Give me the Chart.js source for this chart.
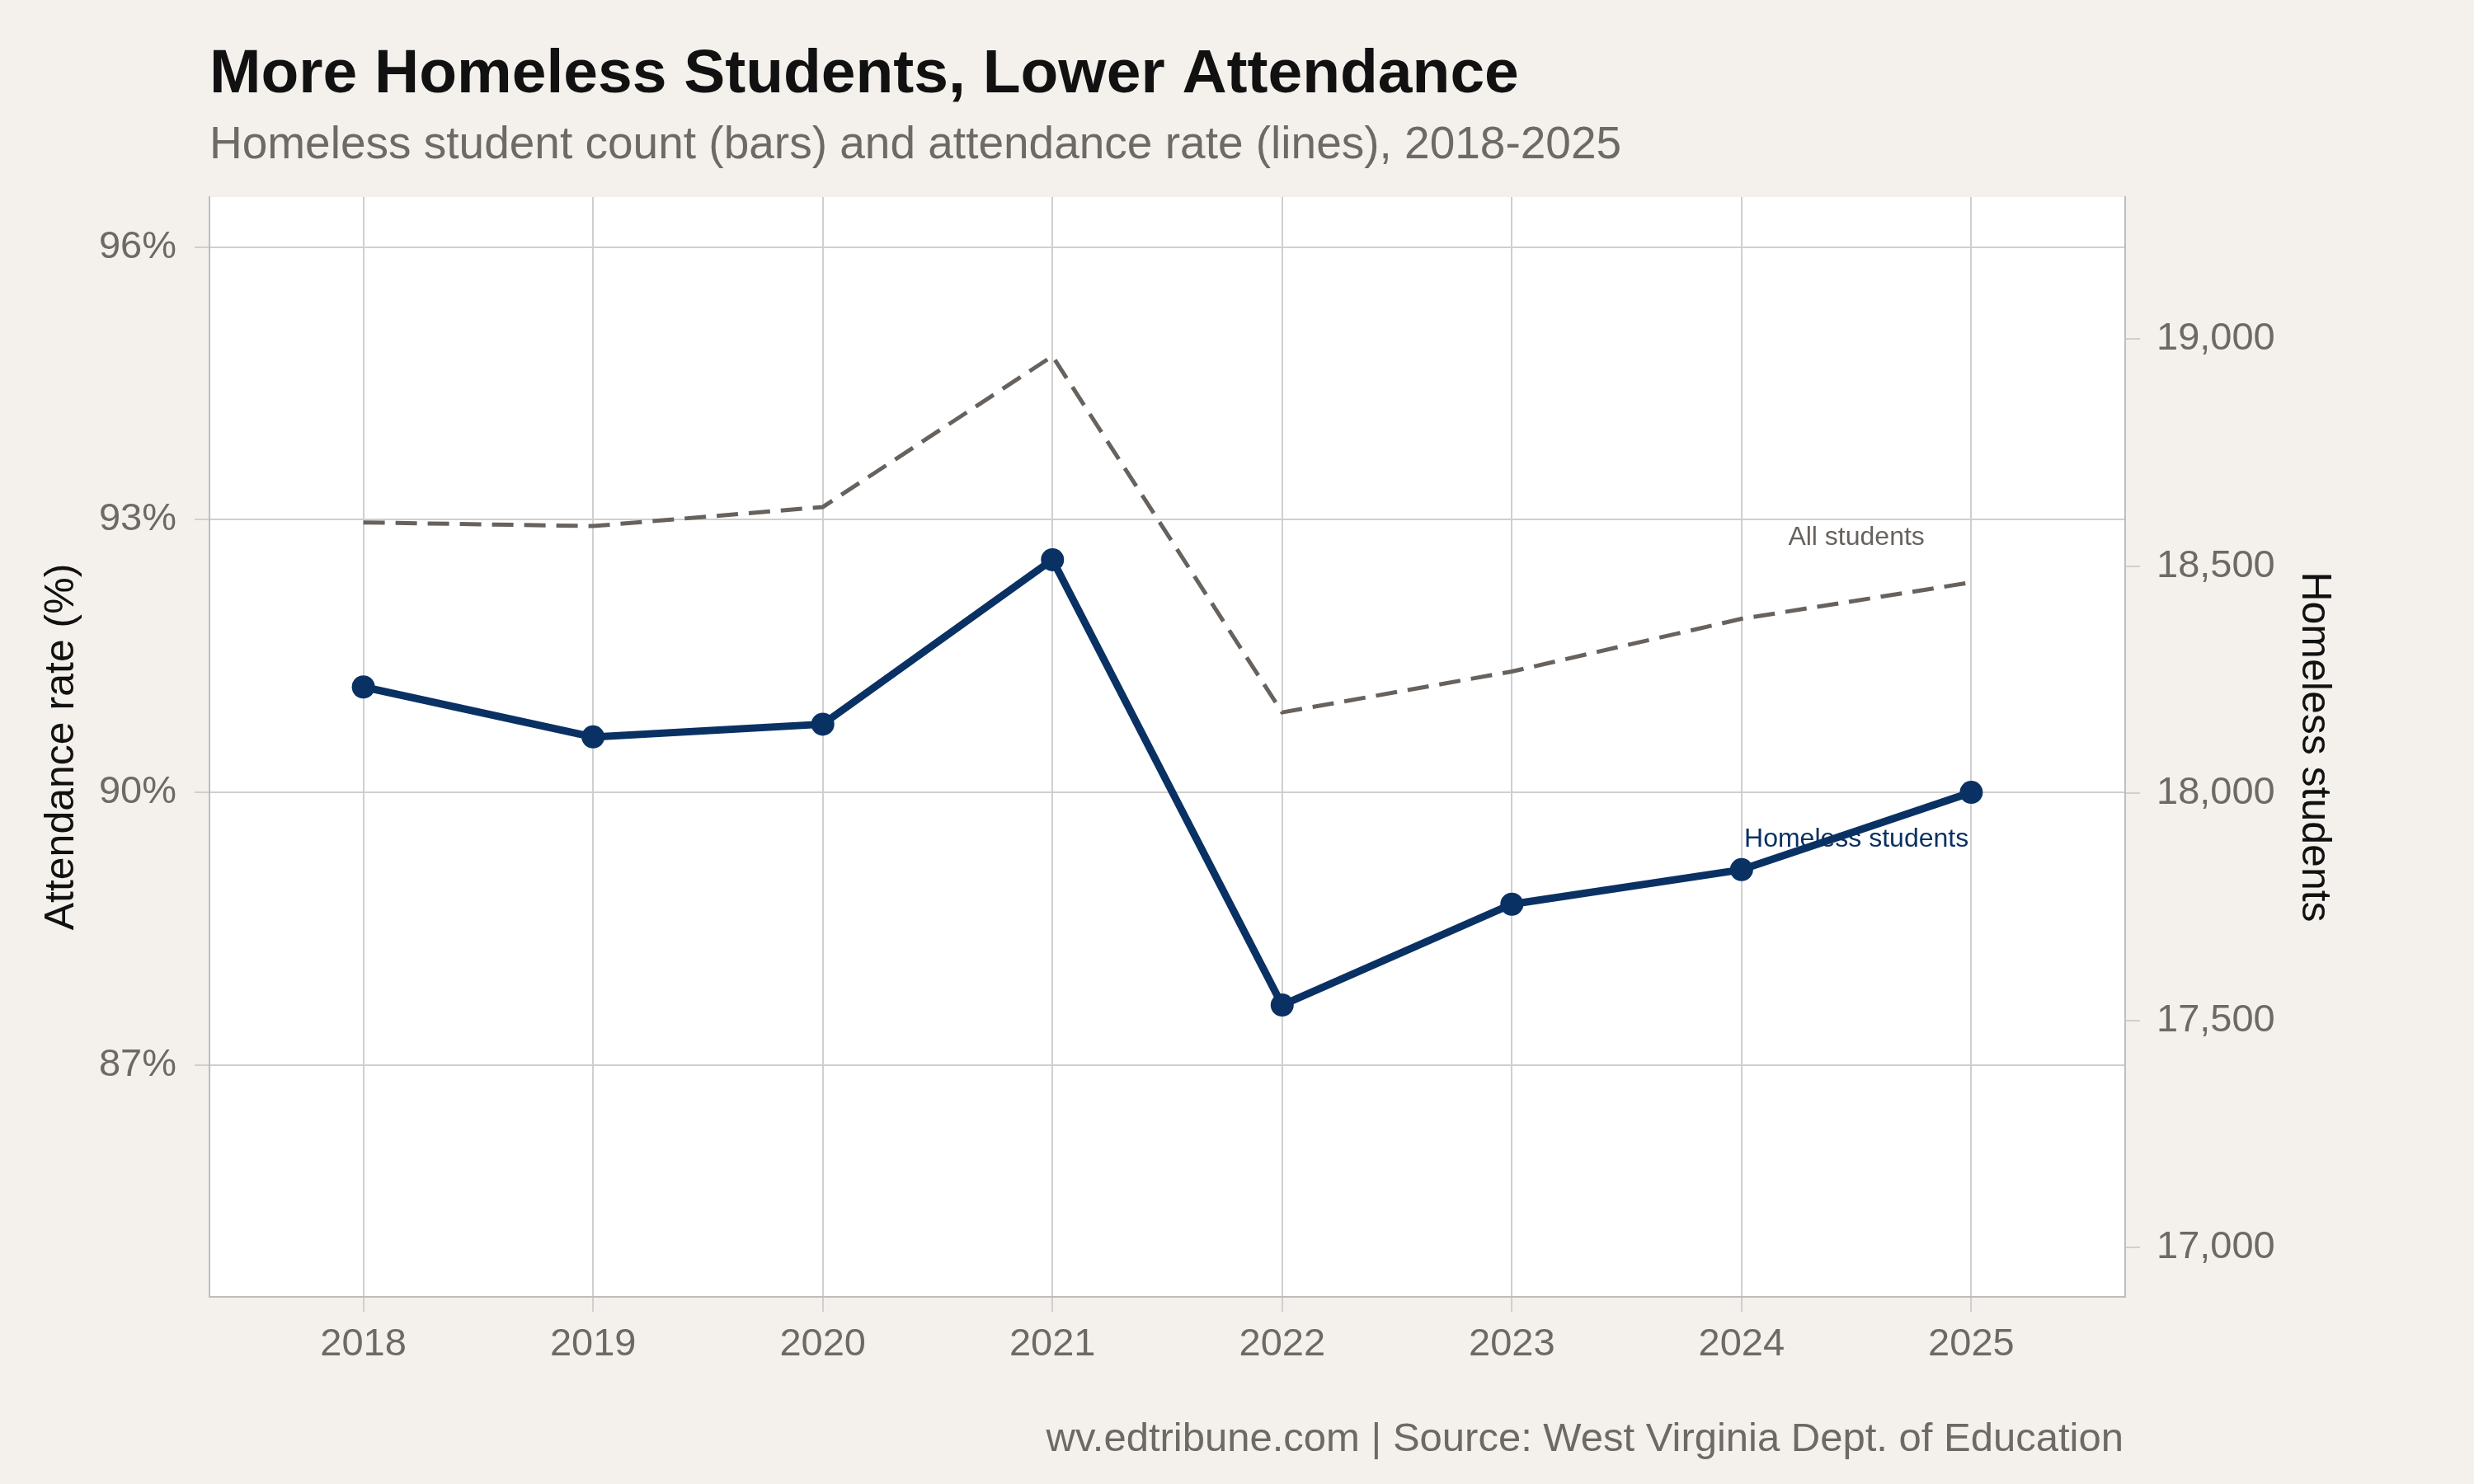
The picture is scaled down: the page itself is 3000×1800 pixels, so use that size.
<!DOCTYPE html>
<html>
<head>
<meta charset="utf-8">
<script src="https://cdn.jsdelivr.net/npm/chart.js@4"></script>
<style>
  html, body { margin: 0; padding: 0; background: #f4f1ec; }
  #wrap { width: 3000px; height: 1800px; }
</style>
</head>
<body>
<div id="wrap"><canvas id="c" width="3000" height="1800"></canvas></div>
<script>
// data
const years = [2018, 2019, 2020, 2021, 2022, 2023, 2024, 2025];
const homelessRate = [91.16, 90.61, 90.75, 92.56, 87.66, 88.77, 89.15, 90.0];
const allRate = [92.97, 92.93, 93.14, 94.80, 90.88, 91.33, 91.91, 92.31];
const leftTicks = [87, 90, 93, 96];
const rightTicks = [17000, 17500, 18000, 18500, 19000];

const FONT = '"Liberation Sans", Arial, sans-serif';
const NAVY = '#0a3163';
const GREY = '#67625d';

// fond blanc de la zone de tracé + textes
const decor = {
    id: 'decor',
    beforeDraw(chart) {
        const { ctx, chartArea: a } = chart;
        ctx.save();
        ctx.fillStyle = '#ffffff';
        ctx.fillRect(a.left, a.top, a.right - a.left, a.bottom - a.top);
        ctx.restore();
    },
    afterDraw(chart) {
        const { ctx } = chart;
        const x = chart.scales.x, y = chart.scales.y;
        ctx.save();
        ctx.textBaseline = 'alphabetic';
        ctx.fillStyle = '#111111';
        ctx.font = 'bold 75px ' + FONT;
        ctx.fillText('More Homeless Students, Lower Attendance', 254, 112);
        ctx.fillStyle = '#6d6a66';
        ctx.font = '55px ' + FONT;
        ctx.fillText('Homeless student count (bars) and attendance rate (lines), 2018-2025', 254, 192);
        ctx.textAlign = 'right';
        ctx.font = '49px ' + FONT;
        ctx.fillText('wv.edtribune.com | Source: West Virginia Dept. of Education', 2575, 1760);
        ctx.textAlign = 'center';
        ctx.textBaseline = 'middle';
        ctx.font = '32px ' + FONT;
        ctx.fillStyle = GREY;
        ctx.fillText('All students', x.getPixelForValue(2024.5), y.getPixelForValue(92.8));
        ctx.fillStyle = NAVY;
        ctx.fillText('Homeless students', x.getPixelForValue(2024.5), y.getPixelForValue(89.48));
        ctx.restore();
    }
};

new Chart(document.getElementById('c').getContext('2d'), {
    type: 'line',
    data: {
        datasets: [
            {
                label: 'All students',
                data: years.map((yr, i) => ({ x: yr, y: allRate[i] })),
                borderColor: GREY,
                borderWidth: 5,
                borderDash: [26, 13],
                pointRadius: 0,
                yAxisID: 'y'
            },
            {
                label: 'Homeless students',
                data: years.map((yr, i) => ({ x: yr, y: homelessRate[i] })),
                borderColor: NAVY,
                backgroundColor: NAVY,
                borderWidth: 9,
                pointRadius: 14,
                pointBorderWidth: 0,
                yAxisID: 'y'
            }
        ]
    },
    options: {
        responsive: false,
        animation: false,
        layout: { padding: { top: 239, bottom: 0, left: 45, right: 164 } },
        plugins: { legend: { display: false }, tooltip: { enabled: false } },
        scales: {
            x: {
                type: 'linear',
                min: 2017.33, max: 2025.67,
                afterBuildTicks: s => { s.ticks = years.map(v => ({ value: v })); },
                afterFit: s => { s.height = 227; },
                grid: { color: '#cfcfcf', lineWidth: 2, tickLength: 18, tickColor: '#cfcfcf' },
                border: { color: '#bdbdbd', width: 2 },
                ticks: { color: '#6d6a66', font: { size: 47, family: FONT }, padding: 12, callback: v => String(v) }
            },
            y: {
                position: 'left',
                min: 84.45, max: 96.55,
                afterBuildTicks: s => { s.ticks = leftTicks.map(v => ({ value: v })); },
                afterFit: s => { s.width = 209; },
                grid: { color: '#cfcfcf', lineWidth: 2, tickLength: 18, tickColor: '#cfcfcf' },
                border: { color: '#bdbdbd', width: 2 },
                ticks: { color: '#6d6a66', font: { size: 47, family: FONT }, padding: 22, callback: v => v + '%' },
                title: { display: true, text: 'Attendance rate (%)', color: '#111', font: { size: 50, family: FONT }, padding: 0 }
            },
            y1: {
                position: 'right',
                min: 16892, max: 19312,
                afterBuildTicks: s => { s.ticks = rightTicks.map(v => ({ value: v })); },
                afterFit: s => { s.width = 259; },
                grid: { drawOnChartArea: false, tickLength: 18, tickColor: '#cfcfcf', lineWidth: 2 },
                border: { color: '#bdbdbd', width: 2 },
                ticks: { color: '#6d6a66', font: { size: 47, family: FONT }, padding: 20, callback: v => v.toLocaleString('en-US') },
                title: { display: true, text: 'Homeless students', color: '#111', font: { size: 50, family: FONT }, padding: 0 }
            }
        }
    },
    plugins: [decor]
});
</script>
</body>
</html>
